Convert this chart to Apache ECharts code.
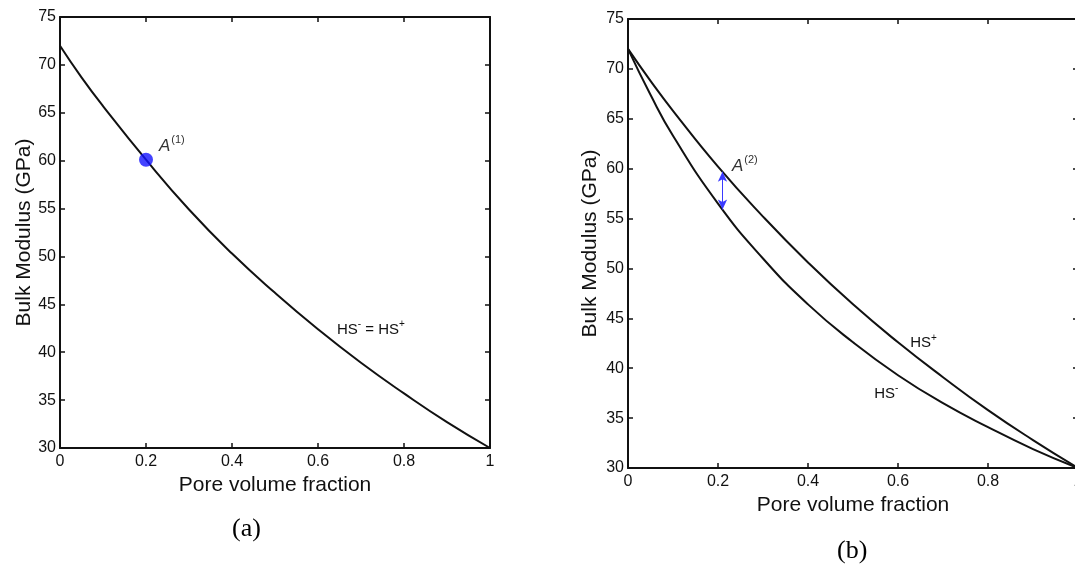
<!DOCTYPE html>
<html>
<head>
<meta charset="utf-8">
<script src="https://cdn.jsdelivr.net/npm/echarts@6/dist/echarts.min.js"></script>
<style>
  html, body { margin: 0; padding: 0; background: #fff; }
  #chart { width: 1075px; height: 568px; }
</style>
</head>
<body>
<div id="chart"></div>
<script>
// pore volume fraction samples
const poreFrac = [0, 0.05, 0.1, 0.2, 0.3, 0.4, 0.5, 0.6, 0.7, 0.8, 0.9, 1];

// (a) HS- = HS+ (single curve)
const hsEqual = [72, 68.7, 65.7, 60.1, 54.9, 50.3, 46.2, 42.4, 38.9, 35.7, 32.7, 30];
// (b) upper and lower Hashin-Shtrikman bounds
const hsUpper = [72, 68.8, 65.8, 60.2, 55.2, 50.6, 46.4, 42.6, 39.1, 35.8, 32.8, 30];
const hsLower = [72, 67.4, 63.3, 56.5, 51.0, 46.4, 42.6, 39.3, 36.5, 34.1, 31.9, 30];

// point A(1) and arrow A(2)
const pointA1 = [0.2, 60.1];
const arrowA2 = [[0.21, 59.7], [0.21, 55.9]];

const xTicks = { min: 0, max: 1, interval: 0.2 };
const yTicks = { min: 30, max: 75, interval: 5 };

const pairs = (ys) => poreFrac.map((x, i) => [x, ys[i]]);

const FONT = 'Liberation Sans, Arial, sans-serif';
const INK = '#111';

const axisBase = {
    type: 'value',
    axisLine: { show: true, onZero: false, lineStyle: { color: INK, width: 2 } },
    axisTick: { show: true, inside: true, length: 5, lineStyle: { color: INK, width: 1.5 } },
    splitLine: { show: false },
};

const xAxisFor = (gridIndex, nameGap) => [
    Object.assign({}, axisBase, xTicks, {
        gridIndex,
        position: 'bottom',
        name: 'Pore volume fraction',
        nameLocation: 'middle',
        nameGap,
        nameTextStyle: { fontFamily: FONT, fontSize: 21, color: INK },
        axisLabel: { fontFamily: FONT, fontSize: 16, color: INK, margin: 6 },
    }),
    Object.assign({}, axisBase, xTicks, {
        gridIndex,
        position: 'top',
        axisLabel: { show: false },
    }),
];

const yAxisFor = (gridIndex, nameGap) => [
    Object.assign({}, axisBase, yTicks, {
        gridIndex,
        position: 'left',
        name: 'Bulk Modulus (GPa)',
        nameLocation: 'middle',
        nameGap,
        nameTextStyle: { fontFamily: FONT, fontSize: 21, color: INK },
        axisLabel: { fontFamily: FONT, fontSize: 16, color: INK, margin: 4 },
    }),
    Object.assign({}, axisBase, yTicks, {
        gridIndex,
        position: 'right',
        axisLabel: { show: false },
    }),
];

const hsRich = {
    t: { fontFamily: FONT, fontSize: 15, color: INK },
    s: { fontFamily: FONT, fontSize: 10, color: INK, padding: [0, 0, 11, 0] },
};
const aRich = {
    a: { fontFamily: FONT, fontSize: 17, fontStyle: 'italic', color: '#333' },
    s: { fontFamily: FONT, fontSize: 11, color: '#333', padding: [0, 0, 13, 1] },
};

const textMark = (coord, formatter, rich) => ({
    coord,
    symbol: 'circle',
    symbolSize: 0,
    label: { show: true, position: 'right', distance: 0, formatter, rich },
});

const curveStyle = { color: INK, width: 2 };

const option = {
    backgroundColor: '#fff',
    animation: false,
    grid: [
        { left: 60, top: 17, width: 430, height: 431, outerBoundsMode: 'none' },
        { left: 628, top: 19, width: 450, height: 449, outerBoundsMode: 'none' },
    ],
    xAxis: [...xAxisFor(0, 24), ...xAxisFor(1, 24)],
    yAxis: [...yAxisFor(0, 22), ...yAxisFor(1, 27)],
    series: [
        {
            name: 'HS (a)',
            type: 'line',
            xAxisIndex: 0,
            yAxisIndex: 0,
            data: pairs(hsEqual),
            smooth: true,
            symbol: 'none',
            lineStyle: curveStyle,
            markPoint: {
                silent: true,
                data: [
                    textMark([0.644, 42.3], '{t|HS}{s|-}{t| = HS}{s|+}', hsRich),
                    textMark([0.23, 61.5], '{a|A}{s|(1)}', aRich),
                ],
            },
        },
        {
            name: 'A(1)',
            type: 'scatter',
            xAxisIndex: 0,
            yAxisIndex: 0,
            data: [pointA1],
            symbolSize: 14,
            itemStyle: { color: '#1414ff' },
            z: 5,
        },
        {
            name: 'HS+',
            type: 'line',
            xAxisIndex: 2,
            yAxisIndex: 2,
            data: pairs(hsUpper),
            smooth: true,
            symbol: 'none',
            lineStyle: curveStyle,
            markPoint: {
                silent: true,
                data: [
                    textMark([0.627, 42.5], '{t|HS}{s|+}', hsRich),
                    textMark([0.231, 60.2], '{a|A}{s|(2)}', aRich),
                ],
            },
            markLine: {
                silent: true,
                symbol: ['arrow', 'arrow'],
                symbolSize: [7, 10],
                label: { show: false },
                lineStyle: { color: '#3a3aff', width: 1, type: 'solid' },
                data: [[{ coord: arrowA2[0] }, { coord: arrowA2[1] }]],
            },
        },
        {
            name: 'HS-',
            type: 'line',
            xAxisIndex: 2,
            yAxisIndex: 2,
            data: pairs(hsLower),
            smooth: true,
            symbol: 'none',
            lineStyle: curveStyle,
            markPoint: {
                silent: true,
                data: [textMark([0.547, 37.4], '{t|HS}{s|-}', hsRich)],
            },
        },
    ],
    graphic: [
        {
            type: 'text', left: 232, top: 516,
            style: { text: '(a)', font: '26px "Liberation Serif", "Times New Roman", serif', fill: '#000' },
        },
        {
            type: 'text', left: 837, top: 538,
            style: { text: '(b)', font: '26px "Liberation Serif", "Times New Roman", serif', fill: '#000' },
        },
    ],
};

const chart = echarts.init(document.getElementById('chart'), null, { renderer: 'canvas' });
chart.setOption(option);
</script>
</body>
</html>
